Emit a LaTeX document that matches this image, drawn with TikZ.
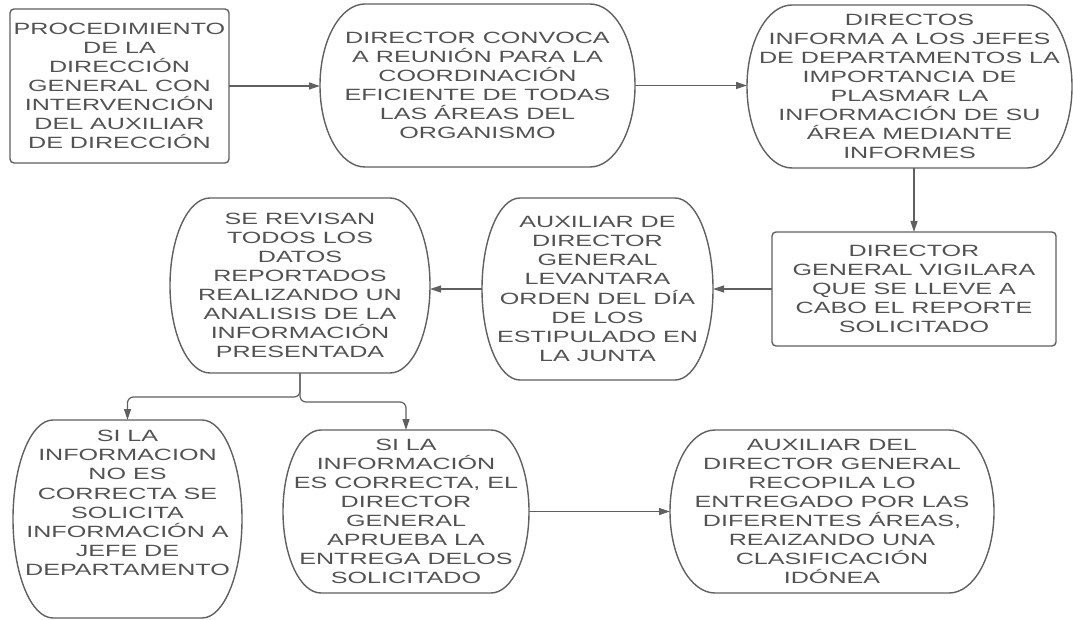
\documentclass[tikz,border=0pt]{standalone}
\usepackage{fontspec}
\setmainfont[FakeStretch=1.54]{Liberation Sans}
\usetikzlibrary{arrows.meta}
\definecolor{trazo}{RGB}{96,96,96}
\definecolor{letra}{RGB}{82,82,82}
\newcommand{\barril}[3]{%
  \draw[contorno] ([xshift=#2pt]#1.north west) -- ([xshift=-#2pt]#1.north east)
    arc[start angle=90,end angle=-90,x radius=#2pt,y radius=#3pt]
    -- ([xshift=#2pt]#1.south west)
    arc[start angle=270,end angle=90,x radius=#2pt,y radius=#3pt] -- cycle;}

\begin{document}
\begin{tikzpicture}[x=1pt,y=-1pt]
  \tikzset{caja/.style = {shape=rectangle,align=center,inner sep=0pt,outer sep=0pt,text=letra,font=\fontsize{16.3}{19.1}\selectfont}}
  \tikzset{recta/.style = {caja,draw=trazo,line width=1.4pt,rounded corners=4pt}}
  \tikzset{contorno/.style = {draw=trazo,line width=1.4pt}}
  \tikzset{flecha/.style = {draw=trazo,line width=1.2pt,-{Triangle[length=11pt,width=7pt]}}}
  \useasboundingbox (0,0) rectangle (1073,620);

	\node[recta,minimum width=219pt,minimum height=154pt] (b1) at (119.5,86) {PROCEDIMIENTO\\DE LA\\DIRECCIÓN\\GENERAL CON\\INTERVENCIÓN\\DEL AUXILIAR\\DE DIRECCIÓN};
	\node[caja,minimum width=315pt,minimum height=163pt] (b2) at (477.5,85.5) {DIRECTOR CONVOCA\\A REUNIÓN PARA LA\\COORDINACIÓN\\EFICIENTE DE TODAS\\LAS ÁREAS DEL\\ORGANISMO};
	\node[caja,minimum width=325pt,minimum height=163pt] (b3) at (909.5,86.5) {DIRECTOS\\INFORMA A LOS JEFES\\DE DEPARTAMENTOS LA\\IMPORTANCIA DE\\PLASMAR LA\\INFORMACIÓN DE SU\\ÁREA MEDIANTE\\INFORMES};
	\node[recta,minimum width=284pt,minimum height=114pt] (b4) at (914,289) {DIRECTOR\\GENERAL VIGILARA\\QUE SE LLEVE A\\CABO EL REPORTE\\SOLICITADO};
	\node[caja,minimum width=231pt,minimum height=182pt] (b5) at (597.5,289) {AUXILIAR DE\\DIRECTOR\\GENERAL\\LEVANTARA\\ORDEN DEL DÍA\\DE LOS\\ESTIPULADO EN\\LA JUNTA};
	\node[caja,minimum width=260pt,minimum height=175pt] (b6) at (300,285.5) {SE REVISAN\\TODOS LOS\\DATOS\\REPORTADOS\\REALIZANDO UN\\ANALISIS DE LA\\INFORMACIÓN\\PRESENTADA};
	\node[caja,minimum width=229pt,minimum height=198pt] (b7) at (127.5,519) {SI LA\\INFORMACION\\NO ES\\CORRECTA SE\\SOLICITA\\INFORMACIÓN A\\JEFE DE\\DEPARTAMENTO\\[13pt]\mbox{}};
	\node[caja,minimum width=246pt,minimum height=163pt] (b8) at (406,511.5) {SI LA\\INFORMACIÓN\\ES CORRECTA, EL\\DIRECTOR\\GENERAL\\APRUEBA LA\\ENTREGA DELOS\\SOLICITADO};
	\node[caja,minimum width=324pt,minimum height=163pt] (b9) at (832,511.5) {AUXILIAR DEL\\DIRECTOR GENERAL\\RECOPILA LO\\ENTREGADO POR LAS\\DIFERENTES ÁREAS,\\REAIZANDO UNA\\CLASIFICACIÓN\\IDÓNEA};

	\barril{b2}{45}{81.5}
	\barril{b3}{45}{81.5}
	\barril{b5}{38}{91}
	\barril{b6}{40}{87.5}
	\barril{b7}{40}{99}
	\barril{b8}{38}{81.5}
	\barril{b9}{45}{81.5}

	\draw[flecha] (b1.east) -- (b1.east -| b2.west);
	\draw[flecha] (b2.east) -- (b2.east -| b3.west);
	\draw[flecha] (b4.north |- b3.south) -- (b4.north);
	\draw[flecha] (b4.west) -- (b4.west -| b5.east);
	\draw[flecha] (b5.west) -- (b5.west -| b6.east);
	\draw[flecha,rounded corners=6pt] (b6.south) -- ++(0,24) -| (b7.north);
	\draw[flecha,rounded corners=6pt] (b6.south) -- ++(0,29) -| (b8.north);
	\draw[flecha] (b8.east) -- (b8.east -| b9.west);
\end{tikzpicture}
\end{document}
